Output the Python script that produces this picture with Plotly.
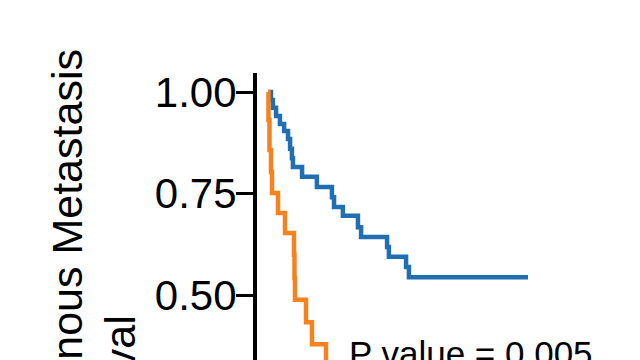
import plotly.graph_objects as go

# Kaplan-Meier data (time in arbitrary units, survival probability)
blue_time = [0, 1.15, 1.9, 3.1, 4.6, 6.2, 7.7, 8.5, 9.2, 9.6, 13.1, 18.8, 24.6, 25.4,
             28.8, 34.6, 35.8, 45.8, 46.5, 53.1, 54.2, 100]
blue_surv = [1.0, 0.980, 0.961, 0.941, 0.921, 0.904, 0.884, 0.860, 0.837, 0.815, 0.791,
             0.766, 0.741, 0.717, 0.695, 0.667, 0.643, 0.618, 0.594, 0.569, 0.544, 0.544]

orange_time = [0, 0.19, 0.58, 1.15, 1.54, 3.85, 6.54, 10.0, 10.19, 10.38, 14.62, 16.92, 22.31, 40]
orange_surv = [1.0, 0.931, 0.857, 0.803, 0.751, 0.702, 0.653, 0.599, 0.542, 0.488, 0.433,
               0.379, 0.30, 0.30]

y_tickvals = [0.50, 0.75, 1.00]
y_ticktext = ["0.50", "0.75", "1.00"]
title_line1 = "Metachronous Metastasis"
title_line2 = "Free Survival"
p_text = "P value = 0.005"

BLUE = "#1f6fb2"
ORANGE = "#f5821f"
FONT = "Liberation Sans, Arial, sans-serif"

fig = go.Figure()
fig.add_trace(go.Scatter(x=blue_time, y=blue_surv, mode="lines", line_shape="hv",
                         line=dict(color=BLUE, width=4.5), showlegend=False))
fig.add_trace(go.Scatter(x=orange_time, y=orange_surv, mode="lines", line_shape="hv",
                         line=dict(color=ORANGE, width=4.5), showlegend=False))

L, T, W, H = 257, 73, 640, 360
pw, ph = W - L, H - T

def px(xp):
    return (xp - L) / pw

def py(yp):
    return (H - yp) / ph

fig.update_layout(
    width=W, height=H,
    margin=dict(l=L, r=0, t=T, b=0, pad=0),
    paper_bgcolor="white", plot_bgcolor="white",
    xaxis=dict(visible=False, range=[-4.23, 143.08]),
    yaxis=dict(range=[0.3399, 1.0468], tickvals=y_tickvals, ticktext=y_ticktext,
               ticks="outside", ticklen=17, tickwidth=3, tickcolor="black",
               ticklabelstandoff=-9,
               showline=True, linewidth=4, linecolor="black",
               showgrid=False, zeroline=False,
               tickfont=dict(family=FONT, size=42, color="black")),
    annotations=[
        dict(text=title_line1, textangle=-90, xref="paper", yref="paper",
             x=px(67), y=py(48), xanchor="center", yanchor="top", showarrow=False,
             borderpad=0, font=dict(family=FONT, size=43, color="black")),
        dict(text=title_line2, textangle=-90, xref="paper", yref="paper",
             x=px(119), y=py(315), xanchor="center", yanchor="top", showarrow=False,
             borderpad=0, font=dict(family=FONT, size=43, color="black")),
        dict(text=p_text, xref="paper", yref="paper",
             x=px(348), y=py(333), xanchor="left", yanchor="top", showarrow=False,
             borderpad=0, font=dict(family=FONT, size=35, color="black")),
    ],
)

fig.write_html("out.html")
